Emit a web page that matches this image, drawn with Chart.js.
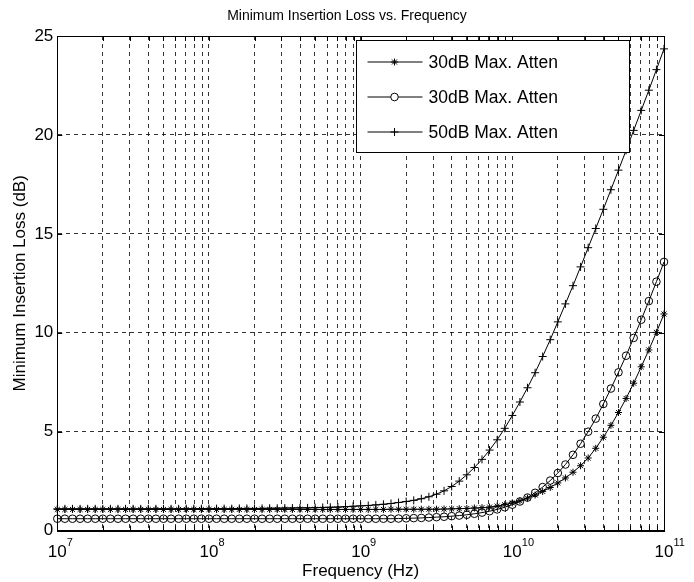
<!DOCTYPE html>
<html>
<head>
<meta charset="utf-8">
<script src="https://cdn.jsdelivr.net/npm/chart.js@4.4.1/dist/chart.umd.min.js"></script>
<style>
  html, body { margin: 0; padding: 0; background: #fff; }
</style>
</head>
<body>
<canvas id="chart" width="694" height="582"></canvas>
<script>
// Frequency sweep: 20 points per decade from 10^7 to 10^11 Hz
const mantissas = [1.000, 1.122, 1.259, 1.413, 1.585, 1.778, 1.995, 2.239, 2.512, 2.818,
                   3.162, 3.548, 3.981, 4.467, 5.012, 5.623, 6.310, 7.079, 7.943, 8.913]
const decades = [1e7, 1e8, 1e9, 1e10]
const lastFreq = 1e11

// Minimum insertion loss (dB) at each sweep point
const loss30Star = [
  1.07, 1.07, 1.07, 1.07, 1.07, 1.07, 1.07, 1.07, 1.07, 1.07,
  1.07, 1.07, 1.07, 1.07, 1.07, 1.07, 1.07, 1.07, 1.07, 1.07,
  1.07, 1.07, 1.07, 1.07, 1.07, 1.07, 1.07, 1.07, 1.07, 1.07,
  1.07, 1.07, 1.07, 1.07, 1.07, 1.07, 1.07, 1.07, 1.07, 1.07,
  1.07, 1.07, 1.07, 1.07, 1.08, 1.08, 1.08, 1.08, 1.08, 1.08,
  1.08, 1.09, 1.10, 1.11, 1.12, 1.14, 1.16, 1.19, 1.24, 1.31,
  1.40, 1.51, 1.64, 1.80, 1.98, 2.18, 2.41, 2.66, 2.95, 3.28,
  3.67, 4.16, 4.72, 5.32, 5.97, 6.68, 7.45, 8.28, 9.13, 10.02,
  10.95
]
const loss30Circle = [
  0.60, 0.60, 0.60, 0.60, 0.60, 0.60, 0.60, 0.60, 0.60, 0.60,
  0.60, 0.60, 0.60, 0.60, 0.60, 0.60, 0.60, 0.60, 0.60, 0.60,
  0.60, 0.60, 0.60, 0.60, 0.60, 0.60, 0.60, 0.60, 0.60, 0.60,
  0.60, 0.60, 0.60, 0.60, 0.60, 0.60, 0.60, 0.60, 0.60, 0.60,
  0.60, 0.60, 0.60, 0.60, 0.60, 0.61, 0.62, 0.63, 0.64, 0.66,
  0.68, 0.70, 0.73, 0.76, 0.80, 0.85, 0.91, 0.98, 1.07, 1.18,
  1.31, 1.47, 1.67, 1.91, 2.20, 2.53, 2.91, 3.34, 3.83, 4.39,
  5.00, 5.66, 6.40, 7.18, 8.00, 8.84, 9.74, 10.66, 11.60, 12.58,
  13.58
]
const loss50Plus = [
  1.10, 1.10, 1.10, 1.10, 1.10, 1.10, 1.10, 1.10, 1.10, 1.10,
  1.10, 1.10, 1.10, 1.10, 1.10, 1.10, 1.10, 1.11, 1.11, 1.11,
  1.11, 1.11, 1.11, 1.11, 1.12, 1.12, 1.12, 1.12, 1.13, 1.13,
  1.14, 1.14, 1.15, 1.15, 1.16, 1.17, 1.18, 1.19, 1.21, 1.23,
  1.25, 1.27, 1.30, 1.33, 1.37, 1.42, 1.47, 1.53, 1.61, 1.71,
  1.84, 2.01, 2.23, 2.50, 2.82, 3.19, 3.60, 4.07, 4.59, 5.17,
  5.82, 6.50, 7.22, 7.98, 8.80, 9.65, 10.55, 11.46, 12.38, 13.33,
  14.30, 15.27, 16.24, 17.23, 18.22, 19.22, 20.23, 21.24, 22.26, 23.30,
  24.35
]

const seriesLabels = ['30dB Max. Atten', '30dB Max. Atten', '50dB Max. Atten']
const chartTitle = 'Minimum Insertion Loss vs. Frequency'

// Log grid lines at 1..9 x each decade, labels only on decades
const gridMantissas = [1, 2, 3, 4, 5, 6, 7, 8, 9]
const decadeExponents = [7, 8, 9, 10, 11]

const freqs = decades.flatMap(d => mantissas.map(m => m * d)).concat([lastFreq])
const xTicks = decades.flatMap(d => gridMantissas.map(m => m * d)).concat([lastFreq])

const FONT = '"Liberation Sans", Arial, Helvetica, sans-serif'
const toPoints = ys => ys.map((y, i) => ({ x: freqs[i], y }))

// title, axes box, inward ticks, x decade labels and the boxed legend
const matlabAxes = {
  id: 'matlabAxes',
  afterDraw(chart) {
    const { ctx, chartArea: a, scales: { x, y } } = chart
    ctx.save()

    ctx.fillStyle = '#000'
    ctx.font = '14px ' + FONT
    ctx.textAlign = 'center'
    ctx.textBaseline = 'middle'
    ctx.fillText(chartTitle, chart.width / 2, 16)

    ctx.strokeStyle = '#000'
    ctx.lineWidth = 1
    ctx.beginPath()
    xTicks.forEach(v => {
      const px = Math.round(x.getPixelForValue(v)) + 0.5
      ctx.moveTo(px, a.bottom); ctx.lineTo(px, a.bottom - 5)
      ctx.moveTo(px, a.top); ctx.lineTo(px, a.top + 5)
    })
    y.ticks.forEach(t => {
      const py = Math.round(y.getPixelForValue(t.value)) + 0.5
      ctx.moveTo(a.left, py); ctx.lineTo(a.left + 5, py)
      ctx.moveTo(a.right, py); ctx.lineTo(a.right - 5, py)
    })
    ctx.stroke()
    ctx.strokeRect(Math.round(a.left) + 0.5, Math.round(a.top) + 0.5,
                   Math.round(a.right - a.left), Math.round(a.bottom - a.top))

    // decade labels: "10" centred on the tick, exponent raised to the right
    ctx.textBaseline = 'alphabetic'
    decadeExponents.forEach(e => {
      const px = x.getPixelForValue(Math.pow(10, e))
      ctx.font = '17px ' + FONT
      ctx.textAlign = 'center'
      ctx.fillText('10', px, a.bottom + 26)
      const w = ctx.measureText('10').width
      ctx.font = '11px ' + FONT
      ctx.textAlign = 'left'
      ctx.fillText(String(e), px + w / 2, a.bottom + 15)
    })

    // legend
    const bw = 273, bh = 112
    const bx = Math.round(a.right - 35 - bw) + 0.5
    const by = Math.round(a.top + 4) + 0.5
    ctx.fillStyle = '#fff'
    ctx.fillRect(bx, by, bw, bh)
    ctx.strokeRect(bx, by, bw, bh)
    chart.data.datasets.forEach((ds, i) => {
      const ly = by + 21.5 + i * 35
      ctx.strokeStyle = '#000'
      ctx.lineWidth = 1
      ctx.beginPath()
      ctx.moveTo(bx + 11, ly); ctx.lineTo(bx + 66, ly)
      ctx.stroke()
      ctx.fillStyle = '#fff'
      Chart.helpers.drawPoint(ctx, {
        pointStyle: ds.pointStyle, radius: ds.pointRadius, borderWidth: 1, rotation: 0
      }, bx + 38, ly)
      ctx.fillStyle = '#000'
      ctx.font = '17.5px ' + FONT
      ctx.textAlign = 'left'
      ctx.textBaseline = 'middle'
      ctx.fillText(ds.label, bx + 72, ly + 1)
    })
    ctx.restore()
  }
}

const lineStyle = {
  borderColor: '#000',
  borderWidth: 1,
  pointBorderColor: '#000',
  pointBackgroundColor: 'rgba(0,0,0,0)',
  pointBorderWidth: 1,
  tension: 0,
  clip: false
}

new Chart(document.getElementById('chart'), {
  type: 'line',
  data: {
    datasets: [
      { ...lineStyle, label: seriesLabels[0], data: toPoints(loss30Star), pointStyle: 'star', pointRadius: 3.5 },
      { ...lineStyle, label: seriesLabels[1], data: toPoints(loss30Circle), pointStyle: 'circle', pointRadius: 3.8 },
      { ...lineStyle, label: seriesLabels[2], data: toPoints(loss50Plus), pointStyle: 'cross', pointRadius: 4 }
    ]
  },
  options: {
    responsive: false,
    devicePixelRatio: 1,
    animation: false,
    layout: { padding: { top: 36, right: 30 } },
    plugins: {
      legend: { display: false },
      tooltip: { enabled: false },
      title: { display: false }
    },
    scales: {
      x: {
        type: 'logarithmic',
        min: 1e7,
        max: 1e11,
        afterBuildTicks: s => { s.ticks = xTicks.map(v => ({ value: v })) },
        ticks: { display: false },
        grid: { color: '#000', lineWidth: 0.8, drawTicks: false },
        border: { display: true, color: '#000', width: 1, dash: [4, 4] },
        title: {
          display: true,
          text: 'Frequency (Hz)',
          color: '#000',
          font: { family: FONT, size: 17 },
          padding: { top: 31, bottom: 0 }
        }
      },
      y: {
        min: 0,
        max: 25,
        ticks: { stepSize: 5, color: '#000', font: { family: FONT, size: 17 }, padding: 4 },
        grid: { color: '#000', lineWidth: 0.8, drawTicks: false },
        border: { display: true, color: '#000', width: 1, dash: [4, 4] },
        title: {
          display: true,
          text: 'Minimum Insertion Loss (dB)',
          color: '#000',
          font: { family: FONT, size: 17 },
          padding: { top: 10, bottom: 0 }
        }
      }
    }
  },
  plugins: [matlabAxes]
})
</script>
</body>
</html>
